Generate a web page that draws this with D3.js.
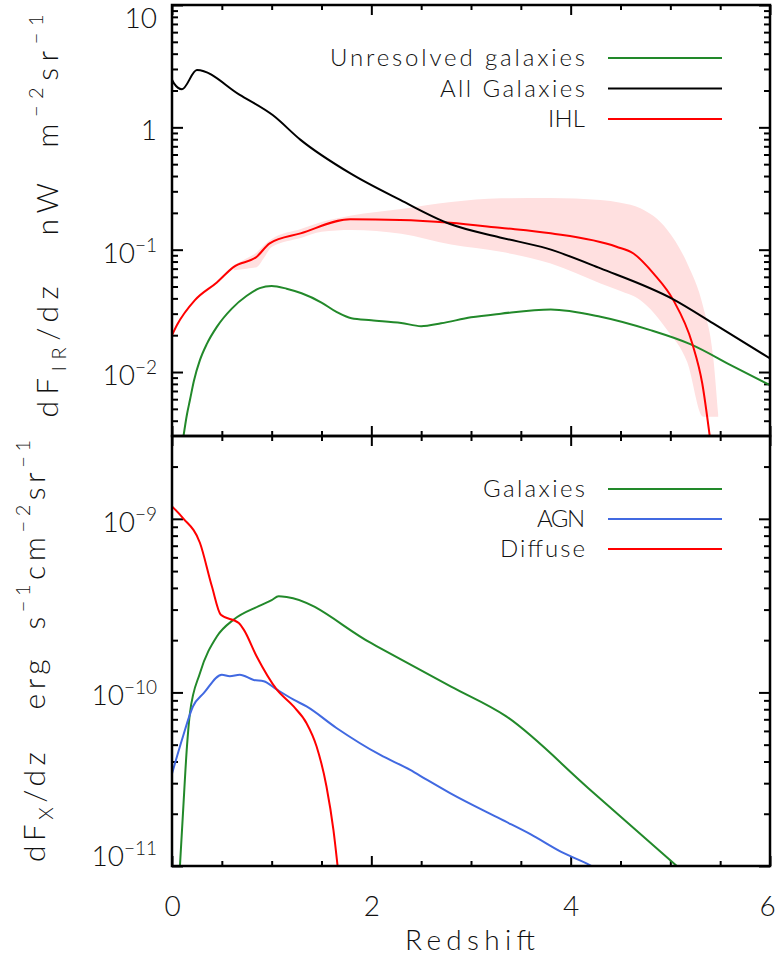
<!DOCTYPE html>
<html>
<head>
<meta charset="utf-8">
<title>IR and X-ray background vs redshift</title>
<style>
  body { margin: 0; background: #fff; }
  text { font-family: "Lato", "DejaVu Sans", sans-serif; font-weight: 300; fill: #111; }
</style>
</head>
<body>
<script src="https://cdnjs.cloudflare.com/ajax/libs/d3/7.8.5/d3.min.js"></script>
<script>

// ---- data ----
// top panel: dF_IR/dz  [nW m^-2 sr^-1]
var zAll   = [0, 0.02, 0.1, 0.25, 0.68, 1.01, 1.29, 1.79, 2.29, 2.79, 3.29, 3.76, 4.30, 5.03, 5.43, 6.0];
var allGal = [2.45, 2.29, 2.05, 2.94, 1.84, 1.26, 0.79, 0.42, 0.255, 0.162, 0.126, 0.1025, 0.0703, 0.0393, 0.025, 0.0129];

var zIHL = [0, 0.05, 0.23, 0.45, 0.62, 0.85, 0.98, 1.29, 1.79, 2.29, 2.79, 3.29, 3.80, 4.46, 4.63, 4.83, 5.03, 5.22, 5.32, 5.40];
var ihl  = [0.020, 0.0242, 0.0387, 0.054, 0.0724, 0.0875, 0.1127, 0.136, 0.177, 0.175, 0.166, 0.151, 0.136, 0.1056, 0.093, 0.064, 0.0387, 0.0171, 0.0081, 0.0028];

var zBand  = [0.62, 0.75, 0.85, 0.92, 1.0, 1.3, 1.5, 1.8, 2.3, 2.8, 3.3, 3.8, 4.3, 4.5, 4.7, 4.97, 5.17, 5.33, 5.43, 5.48];
var bandHi = [0.075, 0.085, 0.095, 0.108, 0.122, 0.148, 0.168, 0.19, 0.215, 0.245, 0.263, 0.265, 0.255, 0.242, 0.218, 0.145, 0.077, 0.034, 0.0133, 0.0045];
var bandLo = [0.068, 0.07, 0.072, 0.085, 0.105, 0.125, 0.14, 0.145, 0.135, 0.11, 0.096, 0.077, 0.053, 0.046, 0.0387, 0.022, 0.012, 0.0043, 0.0043, 0.0043];

var zUnres = [0.11, 0.15, 0.18, 0.22, 0.28, 0.35, 0.45, 0.6, 0.75, 0.88, 1.0, 1.15, 1.3, 1.5, 1.65, 1.8, 2.0, 2.3, 2.5, 2.7, 3.0, 3.3, 3.8, 4.3, 4.8, 5.2, 5.64, 6.0];
var unres  = [0.0028, 0.0045, 0.0059, 0.0085, 0.0125, 0.017, 0.0234, 0.033, 0.042, 0.0485, 0.0505, 0.048, 0.044, 0.037, 0.031, 0.0275, 0.0265, 0.0252, 0.0237, 0.025, 0.028, 0.030, 0.0325, 0.0283, 0.022, 0.0169, 0.011, 0.0078];

// bottom panel: dF_X/dz  [erg s^-1 cm^-2 sr^-1]
var zDiff   = [0.0, 0.11, 0.28, 0.40, 0.49, 0.67, 0.72, 0.85, 1.05, 1.22, 1.35, 1.45, 1.55, 1.62, 1.67];
var diffuse = [1.18e-9, 1.01e-9, 7.28e-10, 4.09e-10, 2.8e-10, 2.51e-10, 2.3e-10, 1.61e-10, 1.04e-10, 8.3e-11, 6.65e-11, 4.9e-11, 2.87e-11, 1.61e-11, 9e-12];

var zGalX = [0.075, 0.11, 0.15, 0.18, 0.28, 0.45, 0.62, 0.87, 1.0, 1.07, 1.15, 2.0, 2.8, 3.35, 4.18, 5.1];
var galX  = [9e-12, 2.01e-11, 4.87e-11, 7.6e-11, 1.29e-10, 2.1e-10, 2.63e-10, 3.14e-10, 3.4e-10, 3.58e-10, 3.55e-10, 1.92e-10, 1.08e-10, 7.3e-11, 2.8e-11, 9.6e-12];

var zAGN = [0.0, 0.11, 0.21, 0.32, 0.5, 0.58, 0.68, 0.82, 0.92, 1.05, 1.22, 1.35, 1.65, 2.09, 2.39, 2.56, 2.79, 3.3, 3.6, 3.9, 4.21, 4.25];
var agn  = [3.4e-11, 5.57e-11, 8.3e-11, 9.93e-11, 1.265e-10, 1.24e-10, 1.265e-10, 1.18e-10, 1.16e-10, 1.04e-10, 9.08e-11, 8.3e-11, 6.24e-11, 4.36e-11, 3.58e-11, 3.13e-11, 2.63e-11, 1.86e-11, 1.52e-11, 1.21e-11, 1.0e-11, 9.7e-12];

var xMajor = [0, 2, 4, 6];
var xMinor = [0.5, 1, 1.5, 2.5, 3, 3.5, 4.5, 5, 5.5];
var irMajor = [0.01, 0.1, 1, 10];
var irLabels = [["10", "\u22122"], ["10", "\u22121"], ["1", ""], ["10", ""]];
var xrMajor = [1e-11, 1e-10, 1e-9];
var xrLabels = [["10", "\u221211"], ["10", "\u221210"], ["10", "\u22129"]];

var topLegend = [["Unresolved galaxies", "#22892a", 255], ["All Galaxies", "#000", 145], ["IHL", "#ff0000", 37]];
var botLegend = [["Galaxies", "#22892a", 102], ["AGN", "#4169e1", 48], ["Diffuse", "#ff0000", 85]];

// ---- layout ----
var left = 172, right = 770;
var top1 = 5, mid = 436, bot2 = 866;

var svg = d3.select("body").append("svg")
        .attr("width", 776)
        .attr("height", 968);

var x = d3.scaleLinear().domain([0, 6]).range([left, right]);
var yIR = d3.scaleLog().domain([0.003, 10]).range([mid, top1]);
var yXR = d3.scaleLog().domain([1e-11, 3e-9]).range([bot2, mid]);

function minorsOf(scale) {
  var d = scale.domain(), out = [];
  for (var e = Math.floor(Math.log10(d[0])); e <= Math.ceil(Math.log10(d[1])); e++) {
    for (var k = 2; k <= 9; k++) {
      var v = k * Math.pow(10, e);
      if (v > d[0] * 1.0001 && v < d[1] * 0.9999) out.push(v);
    }
  }
  return out;
}

function zip(zs, vs) {
  return zs.map(function(z, i) { return [z, vs[i]]; });
}

function panel(name, y, t, b, majors, labels) {
  var g = svg.append("g");

  svg.append("clipPath").attr("id", "clip-" + name)
    .append("rect").attr("x", left).attr("y", t).attr("width", right - left).attr("height", b - t);

  var ax = g.append("g").attr("class", "ticks");
  // x ticks on top and bottom edges, pointing inwards
  [[d3.axisTop, t], [d3.axisBottom, b]].forEach(function(p) {
    ax.append("g").attr("transform", "translate(0," + p[1] + ")")
      .call(p[0](x).tickValues(xMinor).tickSize(-5).tickSizeOuter(0).tickFormat(""));
    ax.append("g").attr("transform", "translate(0," + p[1] + ")")
      .call(p[0](x).tickValues(xMajor).tickSize(-10).tickSizeOuter(0).tickFormat(""));
  });
  // y ticks on left and right edges
  [[d3.axisLeft, left], [d3.axisRight, right]].forEach(function(p) {
    ax.append("g").attr("transform", "translate(" + p[1] + ",0)")
      .call(p[0](y).tickValues(minorsOf(y)).tickSize(-6).tickSizeOuter(0).tickFormat(""));
    ax.append("g").attr("transform", "translate(" + p[1] + ",0)")
      .call(p[0](y).tickValues(majors).tickSize(-11).tickSizeOuter(0).tickFormat(""));
  });
  ax.selectAll(".domain").remove();
  ax.selectAll(".tick line").attr("stroke", "#000").attr("stroke-width", 2);

  // tick labels with exponents
  majors.forEach(function(v, i) {
    var cy = Math.max(t + 13, Math.min(b - 10, y(v) + 3));
    var txt = g.append("text")
      .attr("x", 157).attr("y", cy + 10)
      .attr("text-anchor", "end")
      .attr("font-size", 28);
    txt.append("tspan").text(labels[i][0]);
    if (labels[i][1]) {
      txt.append("tspan").attr("dy", -11).attr("font-size", 19).text(labels[i][1]);
    }
  });

  return g;
}

var g1 = panel("ir", yIR, top1, mid, irMajor, irLabels);
var g2 = panel("xr", yXR, mid, bot2, xrMajor, xrLabels);

// ---- top panel marks ----
var c1 = svg.append("g").attr("clip-path", "url(#clip-ir)");

c1.append("path")
  .datum(zBand.map(function(z, i) { return [z, bandLo[i], bandHi[i]]; }))
  .attr("fill", "#ffe0e0")
  .attr("d", d3.area()
    .x(function(d) { return x(d[0]); })
    .y0(function(d) { return yIR(d[1]); })
    .y1(function(d) { return yIR(d[2]); })
    .curve(d3.curveMonotoneX));

var lineIR = d3.line()
  .x(function(d) { return x(d[0]); })
  .y(function(d) { return yIR(d[1]); })
  .curve(d3.curveMonotoneX);

[[zUnres, unres, "#22892a"], [zIHL, ihl, "#ff0000"], [zAll, allGal, "#000"]].forEach(function(s) {
  c1.append("path")
    .datum(zip(s[0], s[1]))
    .attr("fill", "none")
    .attr("stroke", s[2])
    .attr("stroke-width", 2)
    .attr("d", lineIR);
});

// ---- bottom panel marks ----
var c2 = svg.append("g").attr("clip-path", "url(#clip-xr)");

var lineXR = d3.line()
  .x(function(d) { return x(d[0]); })
  .y(function(d) { return yXR(d[1]); })
  .curve(d3.curveMonotoneX);

[[zGalX, galX, "#22892a"], [zAGN, agn, "#4169e1"], [zDiff, diffuse, "#ff0000"]].forEach(function(s) {
  c2.append("path")
    .datum(zip(s[0], s[1]))
    .attr("fill", "none")
    .attr("stroke", s[2])
    .attr("stroke-width", 2)
    .attr("d", lineXR);
});

// ---- frames ----
[[top1, mid], [mid, bot2]].forEach(function(p) {
  svg.append("rect")
    .attr("x", left).attr("y", p[0])
    .attr("width", right - left).attr("height", p[1] - p[0])
    .attr("fill", "none").attr("stroke", "#000").attr("stroke-width", 2.5);
});

// ---- legends ----
function legend(items, y0, dy) {
  items.forEach(function(it, i) {
    var yy = y0 + i * dy;
    svg.append("text")
      .attr("x", 585).attr("y", yy + 8)
      .attr("text-anchor", "end")
      .attr("font-size", 24)
      .attr("textLength", it[2])
      .attr("lengthAdjust", "spacing")
      .text(it[0]);
    svg.append("line")
      .attr("x1", 608).attr("x2", 722)
      .attr("y1", yy).attr("y2", yy)
      .attr("stroke", it[1]).attr("stroke-width", 2);
  });
}
legend(topLegend, 58, 30.5);
legend(botLegend, 489, 30);

// ---- x axis labels ----
svg.append("g")
  .attr("transform", "translate(0," + bot2 + ")")
  .call(d3.axisBottom(x).tickValues(xMajor).tickFormat(d3.format("d")).tickSize(0).tickPadding(30))
  .call(function(g) { g.select(".domain").remove(); })
  .selectAll("text")
  .attr("font-size", 28)
  .attr("font-family", "Lato, 'DejaVu Sans', sans-serif")
  .attr("fill", "#111")
  .attr("dx", function(d) { return d === 6 ? -3 : 0; });

svg.append("text")
  .attr("x", 470).attr("y", 950)
  .attr("text-anchor", "middle")
  .attr("font-size", 28)
  .attr("textLength", 130)
  .text("Redshift");

// ---- y axis titles ----
function ytitle(cx, cy, len, parts) {
  var t = svg.append("text")
    .attr("transform", "translate(" + cx + "," + cy + ") rotate(-90)")
    .attr("text-anchor", "middle")
    .attr("font-size", 30)
    .attr("textLength", len)
    .attr("lengthAdjust", "spacing")
    .style("white-space", "pre");
  var shift = 0;
  parts.forEach(function(p) {
    var off = p[1] === "sub" ? 8 : p[1] === "sup" ? -15 : 0;
    t.append("tspan")
      .attr("dy", off - shift)
      .attr("font-size", p[1] ? 20 : 30)
      .text(p[0]);
    shift = off;
  });
}

ytitle(58, 216, 403, [["dF"], ["IR", "sub"], ["/dz   nW  m"], ["\u22122", "sup"], ["sr"], ["\u22121", "sup"]]);
ytitle(45, 651, 422, [["dF"], ["X", "sub"], ["/dz   erg  s"], ["\u22121", "sup"], ["cm"], ["\u22122", "sup"], ["sr"], ["\u22121", "sup"]]);

</script>
</body>
</html>
